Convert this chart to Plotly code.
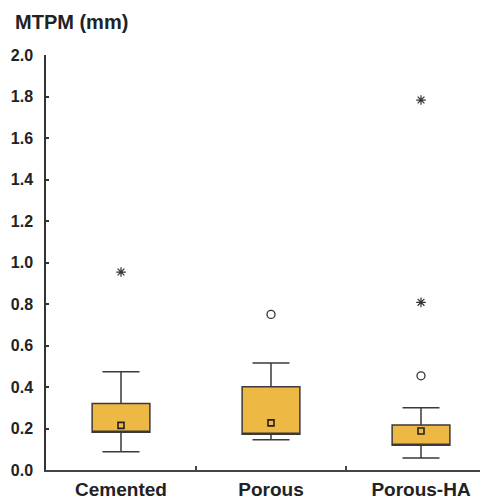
import plotly.graph_objects as go

categories = ["Cemented", "Porous", "Porous-HA"]
q1 = [0.182, 0.172, 0.119]
median = [0.182, 0.172, 0.119]
q3 = [0.321, 0.401, 0.217]
lower_whisker = [0.088, 0.146, 0.058]
upper_whisker = [0.474, 0.516, 0.300]
means = [0.215, 0.227, 0.188]

circle_outlier_x = [1, 2]
circle_outlier_y = [0.750, 0.454]
star_outlier_x = [0, 2, 2]
star_outlier_y = [0.954, 0.808, 1.783]

y_ticks = [0.0, 0.2, 0.4, 0.6, 0.8, 1.0, 1.2, 1.4, 1.6, 1.8, 2.0]

FONT = "Liberation Sans, Arial, sans-serif"
xpos = list(range(len(categories)))

fig = go.Figure()
fig.add_trace(go.Box(
    x=xpos, q1=q1, median=median, q3=q3,
    lowerfence=lower_whisker, upperfence=upper_whisker,
    width=0.385, whiskerwidth=0.64,
    fillcolor="#EDB944", line=dict(color="#3a3a3a", width=1.5),
    boxpoints=False, showlegend=False, hoverinfo="skip",
))
fig.add_trace(go.Scatter(
    x=xpos, y=means, mode="markers",
    marker=dict(symbol="square-open", size=6, color="#222", line=dict(width=1.6)),
    showlegend=False,
))
fig.add_trace(go.Scatter(
    x=circle_outlier_x, y=circle_outlier_y, mode="markers",
    marker=dict(symbol="circle-open", size=8, color="#333", line=dict(width=1.3)),
    showlegend=False,
))
fig.add_trace(go.Scatter(
    x=star_outlier_x, y=star_outlier_y, mode="markers",
    marker=dict(symbol="asterisk-open", size=8, color="#333", line=dict(width=1.2)),
    showlegend=False,
))

# page has an 8px body margin, so the figure starts at (8, 8) in the window
W, H = 480, 492
L, R, T, B = 38, 0, 47, 30
plot_w = W - L - R
plot_h = H - T - B
xmax = -0.5 + plot_w / 150.0

fig.update_layout(
    width=W, height=H,
    margin=dict(l=L, r=R, t=T, b=B),
    paper_bgcolor="white", plot_bgcolor="white",
    font=dict(family=FONT, color="#222"),
    xaxis=dict(
        range=[-0.5, xmax], tickvals=xpos, ticktext=categories,
        ticks="", showgrid=False, zeroline=False,
        showline=True, linecolor="#444", linewidth=2,
        tickfont=dict(family=FONT, size=19, color="#222", weight="bold"),
        minor=dict(tickvals=[0.5, 1.5], ticks="inside", ticklen=4, tickcolor="#444", tickwidth=1.5),
        ticklabelstandoff=1,
        automargin=False,
        fixedrange=True,
    ),
    yaxis=dict(
        range=[0, 2.0], tickvals=y_ticks, tickformat=".1f",
        ticks="inside", ticklen=3, tickcolor="#333", tickwidth=1.5,
        showgrid=False, zeroline=False,
        showline=True, linecolor="#333", linewidth=1.5,
        tickfont=dict(family=FONT, size=16, color="#222", weight="bold"),
        ticklabelstandoff=8,
        automargin=False,
        fixedrange=True,
    ),
    annotations=[dict(
        text="MTPM (mm)", xref="paper", yref="paper",
        x=(5 - L) / plot_w, y=1 + (T - 14) / plot_h,
        xanchor="left", yanchor="middle", showarrow=False,
        font=dict(family=FONT, size=20, color="#222", weight="bold"),
    )],
)

fig.write_html("out.html")
